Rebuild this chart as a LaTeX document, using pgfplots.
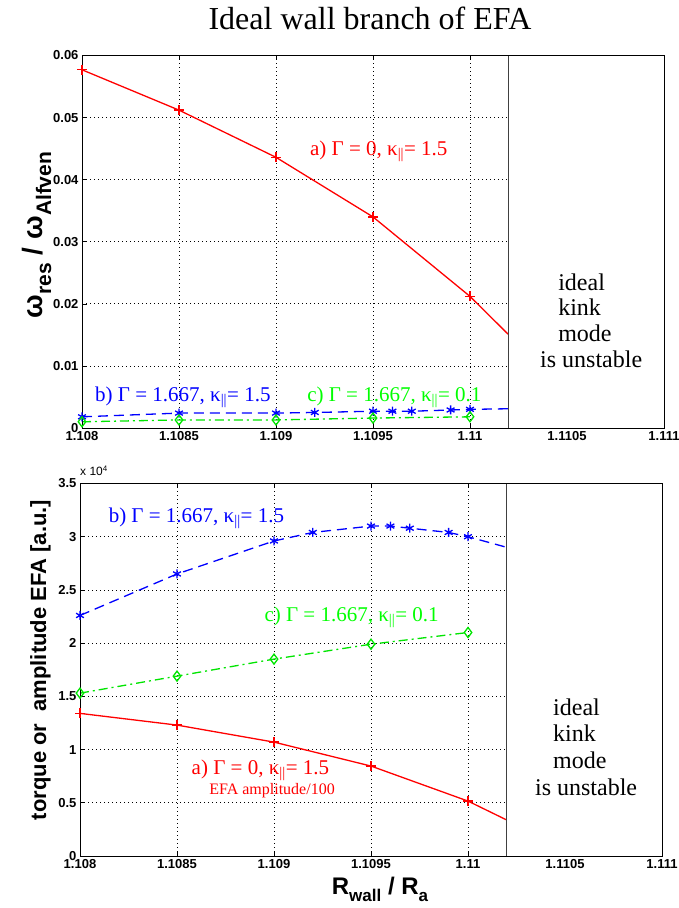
\documentclass[border=0pt]{standalone}
\usepackage{pgfplots}
\pgfplotsset{compat=1.18}
\usepackage{fontspec}
\setmainfont{Liberation Serif}
\setsansfont{Liberation Sans}

\definecolor{mred}{rgb}{1,0,0}
\definecolor{mblue}{rgb}{0,0,1}
\definecolor{mgreen}{rgb}{0,1,0}

\newcommand\ann{\fontsize{21}{23}\selectfont}
\newcommand\kpar{κ\textsubscript{||}}

\pgfplotsset{
  efa/.style={
    scale only axis, width=582pt, height=372.5pt,
    anchor=south west,
    xmin=1.108, xmax=1.111,
    xtick={1.108,1.1085,1.109,1.1095,1.11,1.1105,1.111},
    xticklabels={1.108,1.1085,1.109,1.1095,1.11,1.1105,1.111},
    scaled x ticks=false, scaled y ticks=false,
    tick align=inside, tick pos=both, major tick length=5pt,
    grid=major,
    grid style={black, line width=0.7pt, dash pattern=on 0.8pt off 3.2pt},
    axis line style={line width=0.8pt},
    tick style={black, line width=0.6pt},
    ticklabel style={font=\fontsize{13}{13}\sffamily\bfseries},
    clip=false,
  },
  lred/.style={mred, line width=1.3pt, mark=+, mark size=5pt},
  lblue/.style={mblue, line width=1.3pt, dash pattern=on 10pt off 6pt,
    mark=asterisk, mark size=4.5pt, mark options={solid}},
  lgreen/.style={mgreen!90!black, line width=1.3pt,
    dash pattern=on 9pt off 4pt on 2pt off 4pt,
    mark=diamond, mark size=5pt, mark options={solid}},
}

\begin{document}
\begin{tikzpicture}
\path[use as bounding box] (0,0) rectangle (679pt,908pt);

% upper panel
\begin{axis}[efa, at={(82pt,480pt)},
  ymin=0, ymax=0.06,
  ytick={0,0.01,0.02,0.03,0.04,0.05,0.06},
  yticklabels={0,0.01,0.02,0.03,0.04,0.05,0.06}]
\addplot[lred, mark indices={1,2,3,4,5}] coordinates {
  (1.108,0.0577) (1.1085,0.0512) (1.109,0.0436) (1.1095,0.0340)
  (1.11,0.0212) (1.1102,0.0150)};
\addplot[lblue, mark indices={1,2,3,4,5,6,7,8,9}] coordinates {
  (1.108,0.0018) (1.1085,0.0024) (1.109,0.0024) (1.1092,0.0025)
  (1.1095,0.0027) (1.1096,0.0027) (1.1097,0.0027) (1.1099,0.0029)
  (1.11,0.0030) (1.1102,0.0031)};
\addplot[lgreen] coordinates {
  (1.108,0.0010) (1.1085,0.0013) (1.109,0.0013) (1.1095,0.0016)
  (1.11,0.0018)};
\draw[fill=white, draw=black!75, line width=0.8pt]
  (axis cs:1.1102,0) rectangle (axis cs:1.111,0.06);
\draw[line width=0.8pt] (rel axis cs:0,0) rectangle (rel axis cs:1,1);
\node[mred, font=\ann] at (axis cs:1.10953,0.0445) {a) Γ = 0, \kpar= 1.5};
\node[mblue, font=\ann] at (axis cs:1.10852,0.0050) {b) Γ = 1.667, \kpar= 1.5};
\node[mgreen, font=\ann] at (axis cs:1.10961,0.0050) {c) Γ = 1.667, \kpar= 0.1};
\begin{scope}[every node/.style={anchor=west, font=\fontsize{24}{26}\selectfont, inner sep=0pt}]
\node at (axis cs:1.110454,0.02352) {ideal};
\node at (axis cs:1.110454,0.01950) {kink};
\node at (axis cs:1.110454,0.01530) {mode};
\node at (axis cs:1.110361,0.01112) {is unstable};
\end{scope}
\end{axis}

% lower panel
\begin{axis}[efa, at={(80pt,52pt)},
  ymin=0, ymax=3.5,
  ytick={0,0.5,1,1.5,2,2.5,3,3.5},
  yticklabels={0,0.5,1,1.5,2,2.5,3,3.5}]
\addplot[lblue, mark indices={1,2,3,4,5,6,7,8,9}] coordinates {
  (1.108,2.26) (1.1085,2.65) (1.109,2.96) (1.1092,3.04) (1.1095,3.10)
  (1.1096,3.10) (1.1097,3.08) (1.1099,3.04) (1.11,3.00) (1.1102,2.90)};
\addplot[lgreen] coordinates {
  (1.108,1.53) (1.1085,1.69) (1.109,1.85) (1.1095,1.99) (1.11,2.10)};
\addplot[lred, mark indices={1,2,3,4,5}] coordinates {
  (1.108,1.34) (1.1085,1.23) (1.109,1.07) (1.1095,0.845) (1.11,0.516)
  (1.1102,0.338)};
\draw[fill=white, draw=black!75, line width=0.8pt]
  (axis cs:1.1102,0) rectangle (axis cs:1.111,3.5);
\draw[line width=0.8pt] (rel axis cs:0,0) rectangle (rel axis cs:1,1);
\node[mblue, font=\ann] at (axis cs:1.1086,3.171) {b) Γ = 1.667, \kpar= 1.5};
\node[mgreen, font=\ann] at (axis cs:1.1094,2.241) {c) Γ = 1.667, \kpar= 0.1};
\node[mred, font=\ann] at (axis cs:1.10893,0.8075) {a) Γ = 0, \kpar= 1.5};
\node[mred, font=\fontsize{16}{18}\selectfont] at (axis cs:1.10899,0.613) {EFA amplitude/100};
\begin{scope}[every node/.style={anchor=west, font=\fontsize{24}{26}\selectfont, inner sep=0pt}]
\node at (axis cs:1.110438,1.399) {ideal};
\node at (axis cs:1.110438,1.155) {kink};
\node at (axis cs:1.110438,0.901) {mode};
\node at (axis cs:1.110345,0.648) {is unstable};
\end{scope}
\end{axis}

% titles and labels
\node[font=\fontsize{32}{34}\selectfont, anchor=base] at (370pt,878pt) {Ideal wall branch of EFA};
\node[font=\fontsize{12}{12}\sffamily, anchor=west, inner sep=0pt] at (80pt,437pt) {x 10\textsuperscript{4}};
\node[rotate=90, font=\sffamily\bfseries, anchor=base] at (42pt,673pt)
  {\fontsize{28}{30}\selectfont ω\raisebox{-9pt}{\fontsize{21}{22}\selectfont res} / ω\raisebox{-9pt}{\fontsize{21}{22}\selectfont Alfven}};
\node[rotate=90, font=\fontsize{22}{24}\sffamily\bfseries, anchor=base] at (46pt,248pt)
  {torque or \ amplitude EFA [a.u.]};
\node[font=\sffamily\bfseries, anchor=base] at (380pt,13pt)
  {\fontsize{24}{26}\selectfont R\raisebox{-7pt}{\fontsize{17}{18}\selectfont wall} / R\raisebox{-7pt}{\fontsize{17}{18}\selectfont a}};
\end{tikzpicture}
\end{document}
